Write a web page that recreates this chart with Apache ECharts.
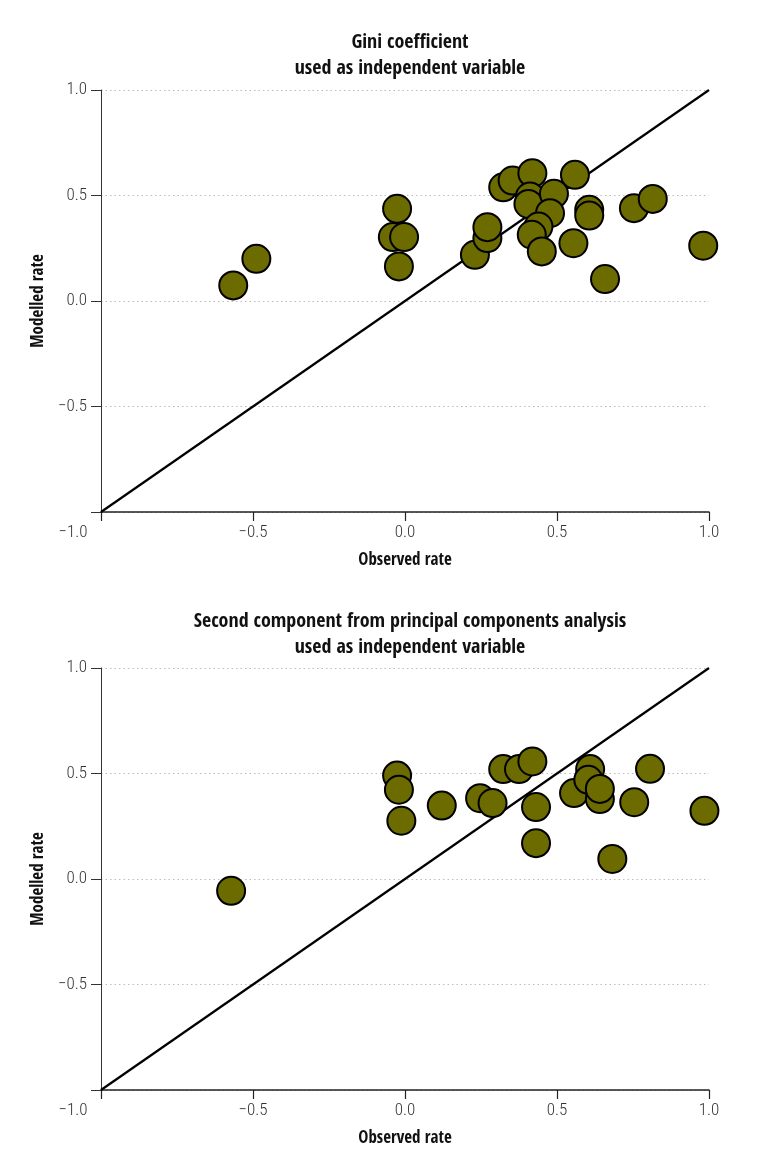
<!DOCTYPE html>
<html>
<head>
<meta charset="utf-8">
<script src="https://cdn.jsdelivr.net/npm/echarts@6/dist/echarts.min.js"></script>
<style>html,body{margin:0;padding:0;background:#fff}#c{width:771px;height:1173px}</style>
</head>
<body>
<div id="c"></div>
<script>
// Panel 1: Gini coefficient as independent variable
const giniObserved = [-0.565,-0.489,-0.026,-0.040,-0.003,-0.020,0.230,0.271,0.271,0.323,0.354,0.419,0.411,0.406,0.490,0.477,0.439,0.417,0.450,0.559,0.554,0.606,0.606,0.658,0.753,0.815,0.981];
const giniModelled = [0.074,0.200,0.437,0.303,0.303,0.164,0.219,0.298,0.350,0.539,0.571,0.606,0.495,0.460,0.508,0.416,0.353,0.314,0.235,0.598,0.274,0.432,0.405,0.104,0.440,0.484,0.262];
// Panel 2: Second principal component as independent variable
const pcaObserved = [-0.572,-0.026,-0.020,-0.012,0.121,0.247,0.288,0.323,0.375,0.419,0.431,0.431,0.556,0.609,0.603,0.641,0.641,0.682,0.754,0.806,0.985];
const pcaModelled = [-0.056,0.490,0.423,0.276,0.348,0.383,0.360,0.521,0.521,0.557,0.341,0.170,0.407,0.521,0.470,0.379,0.427,0.095,0.364,0.522,0.323];
// Line of identity
const identityX = [-1, 1];
const identityY = [-1, 1];
const tickValues = [-1.0, -0.5, 0.0, 0.5, 1.0];
const titles = ["Gini coefficient\nused as independent variable", "Second component from principal components analysis\nused as independent variable"];
const xName = "Observed rate";
const yName = "Modelled rate";

const FONT = "'Open Sans Condensed', 'Roboto Condensed', sans-serif";
const LFONT = "'Roboto Condensed', sans-serif";
const fmt = v => (v < 0 ? "\u2212" : "") + Math.abs(v).toFixed(1);

function pairs(xs, ys){ return xs.map((x,i)=>[x, ys[i]]); }

const grids = [
  {left:101, width:608, top:90, height:422},
  {left:101, width:608, top:668, height:422}
];

function xAxis(i){
  return {
    type:'value', gridIndex:i, min:tickValues[0], max:tickValues[tickValues.length-1], interval:0.5,
    name:xName, nameLocation:'middle', nameGap:40,
    nameTextStyle:{fontFamily:FONT, fontWeight:'bold', fontSize:17, color:'#111'},
    axisLine:{show:true, onZero:false, lineStyle:{color:'#222', width:1.5}},
    axisTick:{show:true, inside:false, length:9, lineStyle:{color:'#222', width:1.2}},
    axisLabel:{show:true, margin:12, fontFamily:LFONT, fontWeight:300, fontSize:17, color:'#333',
      formatter:v => v === tickValues[0] ? '{a|' + fmt(v) + '}' : fmt(v),
      rich:{a:{fontFamily:LFONT, fontWeight:300, fontSize:17, color:'#333', padding:[0,56,0,0]}}},
    splitLine:{show:false}
  };
}
function yAxis(i){
  return {
    type:'value', gridIndex:i, min:tickValues[0], max:tickValues[tickValues.length-1], interval:0.5,
    name:yName, nameLocation:'middle', nameGap:46, nameRotate:90,
    nameTextStyle:{fontFamily:FONT, fontWeight:'bold', fontSize:17, color:'#111'},
    axisLine:{show:true, onZero:false, lineStyle:{color:'#333', width:1}},
    axisTick:{show:true, inside:false, length:10, lineStyle:{color:'#333', width:1}},
    axisLabel:{show:true, margin:14, fontFamily:LFONT, fontWeight:300, fontSize:17, color:'#333',
      formatter:v => v === tickValues[0] ? '' : fmt(v)},
    splitLine:{show:true, lineStyle:{color:'#bdbdbd', width:1, type:[1.5,3]}}
  };
}

function scatter(i, xs, ys){
  return {
    type:'scatter', xAxisIndex:i, yAxisIndex:i, data:pairs(xs, ys), symbol:'circle', symbolSize:28, z:5,
    itemStyle:{color:'#6b6b00', borderColor:'#000', borderWidth:2, opacity:1}
  };
}
function identity(i){
  return {
    type:'line', xAxisIndex:i, yAxisIndex:i, data:pairs(identityX, identityY), showSymbol:false, symbol:'none', z:3,
    lineStyle:{color:'#000', width:2.2}, silent:true
  };
}

const chart = echarts.init(document.getElementById('c'), null, {renderer:'canvas'});
chart.setOption({
  animation:false,
  backgroundColor:'#fff',
  title:[
    {text:titles[0], left:405, top:25, textAlign:'center',
     textStyle:{fontFamily:FONT, fontWeight:'bold', fontSize:20, lineHeight:26, color:'#111'}},
    {text:titles[1], left:405, top:604, textAlign:'center',
     textStyle:{fontFamily:FONT, fontWeight:'bold', fontSize:20, lineHeight:26, color:'#111'}}
  ],
  grid:grids,
  xAxis:[xAxis(0), xAxis(1)],
  yAxis:[yAxis(0), yAxis(1)],
  series:[identity(0), scatter(0, giniObserved, giniModelled), identity(1), scatter(1, pcaObserved, pcaModelled)]
});
</script>
</body>
</html>
